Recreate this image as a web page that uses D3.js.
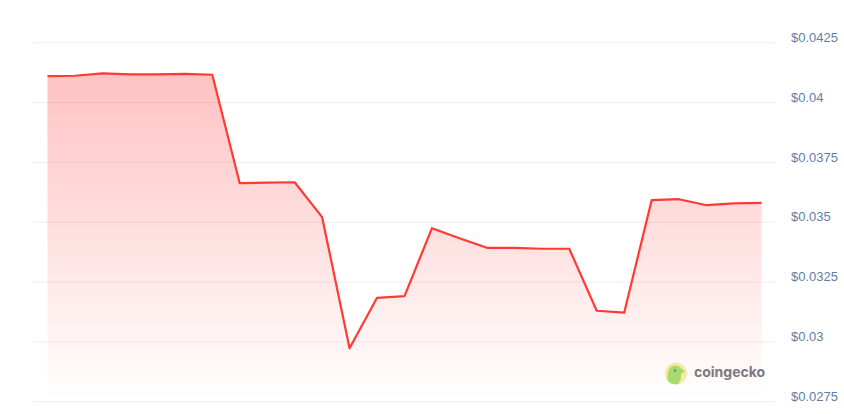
<!DOCTYPE html>
<html><head><meta charset="utf-8">
<script src="https://cdn.jsdelivr.net/npm/d3@7"></script>
<style>html,body{margin:0;padding:0;background:#fff}svg{display:block}</style>
</head><body>
<svg id="c" width="844" height="414"></svg>
<script>
const prices=[.04110,.04112,.04122,.04118,.04118,.04120,.04116,.03663,.03665,.03667,.03521,.02973,.03184,.03191,.03475,.03433,.03393,.03393,.03389,.03389,.03130,.03122,.03592,.03596,.03571,.03579,.03581];
const tickValues=[.0275,.03,.0325,.035,.0375,.04,.0425];
const tickLabels=["$0.0275","$0.03","$0.0325","$0.035","$0.0375","$0.04","$0.0425"];
const indices=prices.map((_,i)=>i);
const svg=d3.select("#c");
const x=d3.scaleLinear().domain([0,prices.length-1]).range([47.5,761.5]);
const y=d3.scaleLinear().domain([.0275,.0425]).range([401.7,42.7]);
const defs=svg.append("defs");
const g=defs.append("linearGradient").attr("id","fill").attr("gradientUnits","userSpaceOnUse").attr("x1",0).attr("x2",0).attr("y1",73).attr("y2",402);
g.append("stop").attr("offset",0).attr("stop-color","#ff0000").attr("stop-opacity",.24);
g.append("stop").attr("offset",1).attr("stop-color","#ff0000").attr("stop-opacity",0);
svg.append("g").selectAll("line").data(tickValues).join("line")
 .attr("x1",33).attr("x2",775).attr("y1",d=>y(d)).attr("y2",d=>y(d)).attr("stroke","#f0eeee").attr("stroke-width",1);
svg.append("path").datum(indices).attr("fill","url(#fill)")
 .attr("d",d3.area().x(i=>x(i)).y0(y(.0275)).y1(i=>y(prices[i])));
svg.append("path").datum(indices).attr("fill","none").attr("stroke","#ff3a33").attr("stroke-width",2.2).attr("stroke-linejoin","round")
 .attr("d",d3.line().x(i=>x(i)).y(i=>y(prices[i])));
svg.append("g").selectAll("text").data(tickValues).join("text")
 .attr("x",791).attr("y",d=>y(d)-0.8).attr("font-family","'Liberation Sans', Arial, sans-serif").attr("font-size",13).attr("fill","#5f7fa6")
 .text((d,i)=>tickLabels[i]);
// logo
const logo=svg.append("g");
logo.append("circle").attr("cx",676).attr("cy",373.5).attr("r",11).attr("fill","#fbe8a6");
logo.append("path").attr("d","M667.5 380 C667 372 669 366 675 365.5 C679 365.5 681 368 685 371.5 L681 374 C681 378 681 381 678 384 C673 385 670 384 667.5 380Z").attr("fill","#a5dc6e");
logo.append("circle").attr("cx",675).attr("cy",370.5).attr("r",1.3).attr("fill","#8a7a94");
logo.append("text").attr("x",694).attr("y",377).attr("font-family","Inter, 'Open Sans', sans-serif").attr("font-size",14).attr("font-weight",700).attr("fill","#7c7880").text("coingecko");
</script>
</body></html>
